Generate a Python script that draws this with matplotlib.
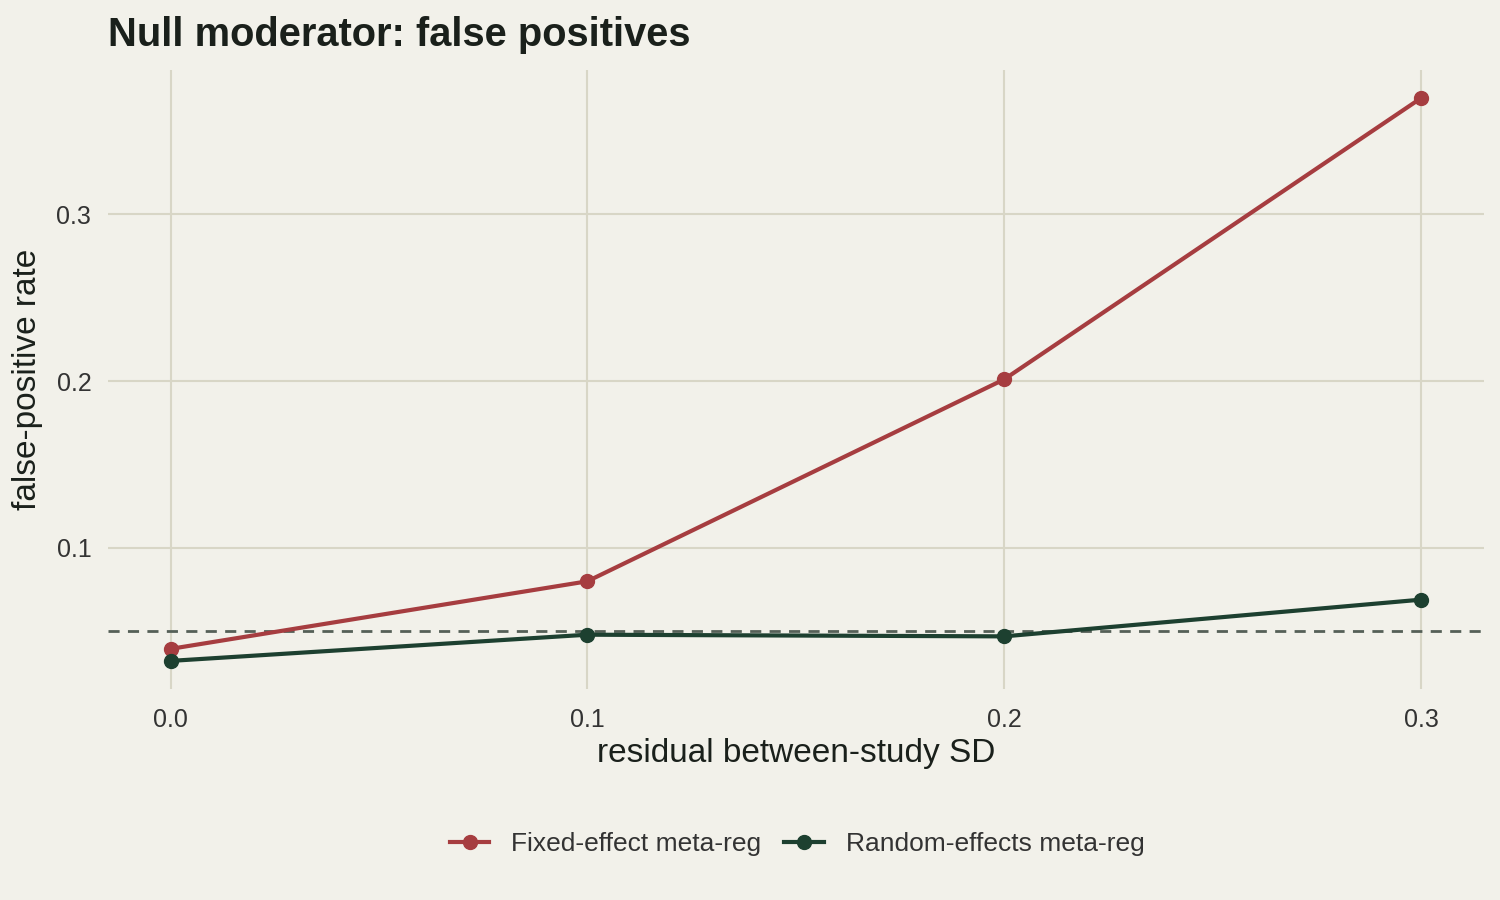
import matplotlib
matplotlib.use('Agg')
import matplotlib.pyplot as plt

# Data
residual_sd = [0.0, 0.1, 0.2, 0.3]
fixed_effect = [0.0395, 0.080, 0.201, 0.3695]
random_effects = [0.0323, 0.048, 0.047, 0.069]
alpha_level = 0.05
x_ticks = [0.0, 0.1, 0.2, 0.3]
y_ticks = [0.1, 0.2, 0.3]

BG = '#f2f1ea'
GRID = '#d8d6c6'
RED = '#a63d40'
GREEN = '#1d4030'
TEXT = '#1a201b'

plt.rcParams['font.family'] = ['Liberation Sans', 'DejaVu Sans']

fig = plt.figure(figsize=(15, 9), dpi=100, facecolor=BG)
ax = fig.add_axes([0.072, 0.2344, 0.917, 0.6878], facecolor=BG)

ax.axhline(alpha_level, color='#556057', lw=2, ls=(0, (4, 3)), zorder=2)
ax.plot(residual_sd, fixed_effect, color=RED, lw=3, marker='o', ms=10,
        label='Fixed-effect meta-reg', zorder=3)
ax.plot(residual_sd, random_effects, color=GREEN, lw=3, marker='o', ms=10,
        label='Random-effects meta-reg', zorder=3)

ax.set_xticks(x_ticks)
ax.set_xticklabels([f'{v:.1f}' for v in x_ticks])
ax.set_yticks(y_ticks)
ax.set_yticklabels([f'{v:.1f}' for v in y_ticks])
ax.margins(x=0.05, y=0.05)
ax.grid(True, color=GRID, lw=1.5, zorder=0)
ax.set_axisbelow(True)
for s in ax.spines.values():
    s.set_visible(False)
ax.tick_params(length=0, labelsize=18, labelcolor='#333333')
ax.tick_params(axis='x', pad=14)
ax.tick_params(axis='y', pad=12)

ax.set_xlabel('residual between-study SD', fontsize=24, color=TEXT, labelpad=4)
ax.set_ylabel('false-positive rate', fontsize=24, color=TEXT, labelpad=10)
ax.set_title('Null moderator: false positives', loc='left', fontsize=28.7,
             fontweight='bold', color=TEXT, pad=17)
ax.title.set_position((-0.003, 1))

leg = fig.legend(loc='center', bbox_to_anchor=(0.5315, 0.062), ncol=2, frameon=False,
                 fontsize=19, handlelength=1.5, columnspacing=0.87, handletextpad=0.83)
for t in leg.get_texts():
    t.set_color('#333333')

fig.savefig('out.png', dpi=100, facecolor=BG)
